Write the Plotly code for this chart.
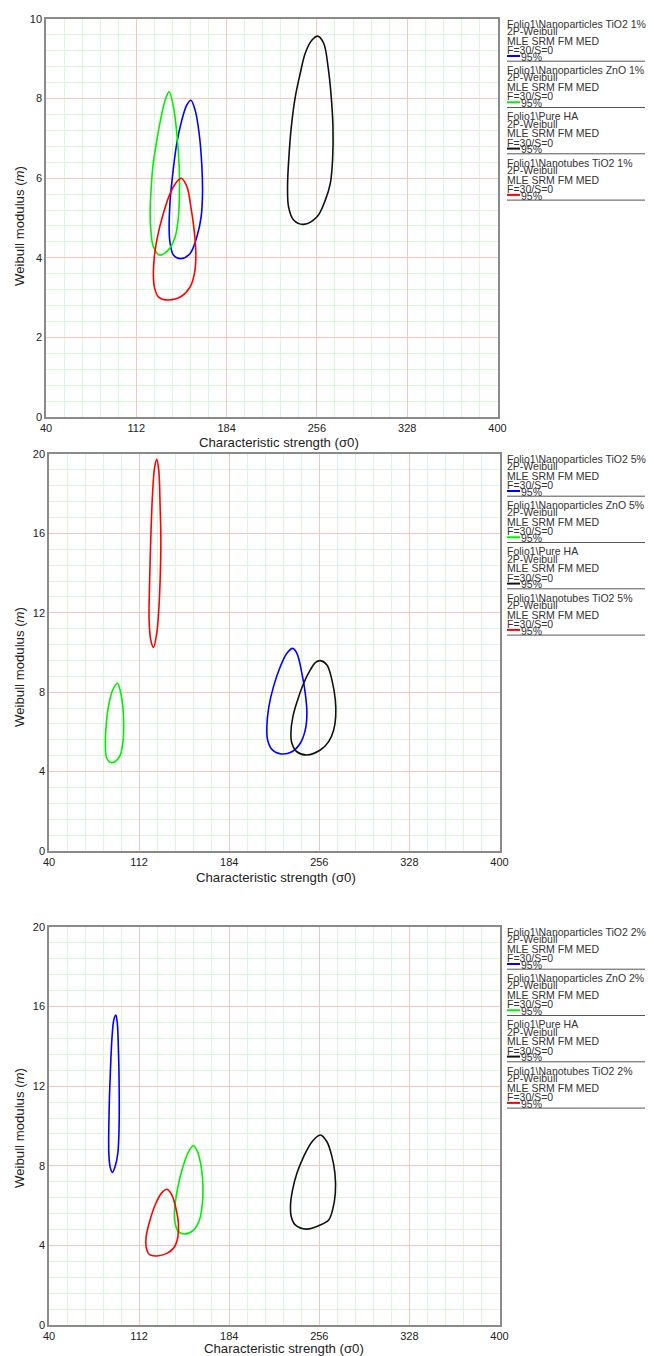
import plotly.graph_objects as go

W, H = 654, 1356
OFF = 8  # the page body margin shifts the figure by 8 px; positions below are page pixels

# ---------------- DATA ----------------
# Panel 1 (1%)
p1_tio2_x = [155.5, 158.9, 162.1, 164.3, 164.8, 163.7, 160.3, 154.9, 147.8, 141.6, 139.0, 138.2, 139.0, 141.1, 144.3, 148.3, 152.3]
p1_tio2_y = [7.96, 7.71, 7.13, 6.29, 5.62, 5.03, 4.53, 4.11, 3.98, 4.07, 4.36, 4.70, 5.45, 6.12, 6.88, 7.46, 7.84]
p1_zno_x = [138.2, 141.6, 144.3, 146.2, 146.4, 145.6, 143.0, 137.6, 130.4, 125.6, 123.6, 123.0, 123.6, 125.2, 128.4, 132.4, 135.5]
p1_zno_y = [8.17, 7.80, 7.13, 6.29, 5.62, 5.03, 4.53, 4.20, 4.07, 4.28, 4.70, 5.12, 5.62, 6.29, 6.96, 7.63, 8.01]
p1_ha_x = [256.6, 261.4, 264.9, 267.2, 268.8, 268.5, 266.7, 262.7, 256.1, 245.4, 237.4, 233.4, 232.6, 233.7, 235.6, 238.8, 242.7, 246.7, 252.1]
p1_ha_y = [9.57, 9.39, 8.80, 8.13, 7.29, 6.46, 5.87, 5.45, 5.03, 4.84, 4.95, 5.28, 5.79, 6.54, 7.29, 8.05, 8.63, 9.14, 9.47]
p1_nt_x = [147.8, 152.3, 155.5, 158.1, 159.5, 158.4, 154.9, 148.3, 137.6, 129.6, 126.4, 125.6, 126.4, 128.4, 132.8, 139.0, 144.3]
p1_nt_y = [6.00, 5.79, 5.28, 4.70, 4.11, 3.61, 3.27, 3.04, 2.94, 3.02, 3.27, 3.61, 4.03, 4.45, 5.03, 5.62, 5.91]

# Panel 2 (5%)
p2_tio2_x = [234.7, 238.1, 242.1, 244.8, 246.1, 244.8, 240.8, 234.1, 225.6, 218.1, 214.7, 214.1, 215.7, 219.4, 224.8, 230.1]
p2_tio2_y = [10.21, 9.96, 8.95, 7.94, 6.94, 6.10, 5.43, 5.00, 4.89, 5.12, 5.59, 6.26, 7.27, 8.28, 9.28, 9.96]
p2_zno_x = [94.7, 96.8, 99.0, 99.7, 99.0, 96.3, 90.2, 86.2, 85.1, 85.6, 87.5, 90.9]
p2_zno_y = [8.45, 8.11, 7.27, 6.26, 5.43, 4.75, 4.45, 4.67, 5.25, 6.26, 7.27, 8.11]
p2_ha_x = [256.8, 262.1, 266.1, 268.8, 269.1, 267.5, 263.5, 256.8, 246.1, 238.1, 234.1, 233.3, 234.9, 238.7, 243.5, 248.8, 252.8]
p2_ha_y = [9.59, 9.37, 8.61, 7.61, 6.77, 6.10, 5.51, 5.09, 4.84, 5.00, 5.43, 5.93, 6.77, 7.61, 8.45, 9.12, 9.49]
p2_nt_x = [126.1, 127.7, 128.8, 129.4, 128.8, 127.7, 126.1, 123.5, 121.3, 120.0, 120.3, 121.3, 122.9, 124.5]
p2_nt_y = [19.73, 19.19, 17.35, 15.67, 13.65, 12.14, 10.97, 10.26, 10.63, 11.64, 13.32, 15.67, 18.19, 19.36]

# Panel 3 (2%)
p3_tio2_x = [93.4, 94.6, 95.4, 96.0, 96.0, 95.0, 92.8, 90.6, 88.8, 87.8, 88.0, 89.0, 90.4, 91.8]
p3_tio2_y = [15.58, 15.16, 13.99, 12.31, 9.97, 8.63, 7.96, 7.67, 7.96, 8.63, 10.64, 12.65, 14.49, 15.33]
p3_zno_x = [155.5, 158.6, 161.6, 163.0, 162.6, 160.2, 155.5, 148.3, 143.4, 140.8, 140.2, 141.6, 144.8, 148.8, 152.2]
p3_zno_y = [9.01, 8.71, 7.96, 6.95, 6.12, 5.28, 4.77, 4.57, 4.69, 5.11, 5.61, 6.45, 7.45, 8.29, 8.79]
p3_ha_x = [256.8, 262.1, 266.1, 268.5, 268.8, 266.6, 263.5, 256.8, 245.6, 236.8, 233.6, 233.0, 234.6, 238.1, 243.5, 250.2]
p3_ha_y = [9.55, 9.21, 8.46, 7.62, 6.62, 5.78, 5.28, 5.03, 4.82, 5.03, 5.44, 6.03, 6.78, 7.62, 8.46, 9.21]
p3_nt_x = [134.2, 138.2, 141.4, 143.4, 143.0, 141.6, 139.4, 134.2, 126.2, 121.0, 119.4, 117.6, 117.6, 120.0, 124.8, 130.2]
p3_nt_y = [6.82, 6.53, 5.86, 5.11, 4.44, 4.10, 3.85, 3.60, 3.47, 3.52, 3.60, 3.93, 4.44, 5.11, 6.03, 6.65]

series_names = ["Nanoparticles TiO2", "Nanoparticles ZnO", "Pure HA", "Nanotubes TiO2"]
series_colors = ["#0000ff", "#00ee00", "#111111", "#ff0000"]
panel_pcts = ["1%", "5%", "2%"]
legend_lines = ["2P-Weibull", "MLE SRM FM MED", "F=30/S=0", "95%"]

x_ticks = [40, 112, 184, 256, 328, 400]
y_ranges = [[0, 10], [0, 20], [0, 20]]
y_dticks = [2, 4, 4]

panels = [
    [(p1_tio2_x, p1_tio2_y), (p1_zno_x, p1_zno_y), (p1_ha_x, p1_ha_y), (p1_nt_x, p1_nt_y)],
    [(p2_tio2_x, p2_tio2_y), (p2_zno_x, p2_zno_y), (p2_ha_x, p2_ha_y), (p2_nt_x, p2_nt_y)],
    [(p3_tio2_x, p3_tio2_y), (p3_zno_x, p3_zno_y), (p3_ha_x, p3_ha_y), (p3_nt_x, p3_nt_y)],
]

# ---------------- LAYOUT (page pixel geometry) ----------------
plot_px = [  # left, right, top, bottom
    (46, 497.5, 19, 417),
    (49, 499.5, 454, 851),
    (49, 499.5, 927, 1325),
]
ytitle_cy = [226, 667, 1128]
xtitle_pos = [(279, 442), (276, 877), (284, 1348)]


def px_x(p):
    return (p - OFF) / W


def px_y(p):
    return 1 - (p - OFF) / H


fig = go.Figure()
shapes = []
annotations = []
FONT = "Liberation Sans, Arial, sans-serif"
TXT = "#222222"

for i, series in enumerate(panels):
    ax = "" if i == 0 else str(i + 1)
    for j, (xs, ys) in enumerate(series):
        fig.add_trace(go.Scatter(
            x=list(xs) + [xs[0]], y=list(ys) + [ys[0]],
            mode="lines", line=dict(color=series_colors[j], width=1.6, shape="spline", smoothing=1.0),
            xaxis="x" + ax, yaxis="y" + ax, showlegend=False, hoverinfo="skip",
        ))
    l, r, t, b = plot_px[i]
    common = dict(
        showline=True, linecolor="#8a8a8a", linewidth=1.5, mirror=True,
        zeroline=False, ticks="", showgrid=True, gridcolor="#f7c4c4", gridwidth=1,
        tickfont=dict(family=FONT, size=11, color=TXT), automargin=False,
    )
    fig.update_layout(**{
        "xaxis" + ax: dict(
            domain=[px_x(l), px_x(r)], range=[40, 400], tickmode="array", tickvals=x_ticks,
            ticktext=[str(v) for v in x_ticks], anchor="y" + ax,
            minor=dict(tick0=40, dtick=14.4, showgrid=True, gridcolor="#dcf5dc", gridwidth=1),
            **common),
        "yaxis" + ax: dict(
            domain=[px_y(b), px_y(t)], range=y_ranges[i], tick0=0, dtick=y_dticks[i], anchor="x" + ax,
            minor=dict(tick0=0, dtick=y_dticks[i] / 5, showgrid=True, gridcolor="#dcf5dc", gridwidth=1),
            **common),
    })
    # axis titles
    annotations.append(dict(
        text="Weibull modulus (<i>m</i>)", textangle=-90, showarrow=False,
        xref="paper", yref="paper", x=px_x(19), y=px_y(ytitle_cy[i]),
        xanchor="center", yanchor="middle", font=dict(family=FONT, size=13.2, color=TXT)))
    annotations.append(dict(
        text="Characteristic strength (σ0)", showarrow=False,
        xref="paper", yref="paper", x=px_x(xtitle_pos[i][0]), y=px_y(xtitle_pos[i][1]),
        xanchor="center", yanchor="middle", font=dict(family=FONT, size=13.2, color=TXT)))
    # legend block
    for j, name in enumerate(series_names):
        y0 = t + 4.7 + j * 46.3
        lines = ["Folio1\\" + name + (" " + panel_pcts[i] if name != "Pure HA" else "")] + legend_lines
        offs = [0, 7.3, 17, 26.3, 33]
        for k, (txt, off) in enumerate(zip(lines, offs)):
            annotations.append(dict(
                text=txt, showarrow=False, xref="paper", yref="paper",
                x=px_x(507 if k < 4 else 521), y=px_y(y0 + off), xshift=-1,
                xanchor="left", yanchor="middle", borderpad=0,
                font=dict(family=FONT, size=10.5, color="#333333")))
        shapes.append(dict(type="line", xref="paper", yref="paper",
                           x0=px_x(507), x1=px_x(520), y0=px_y(y0 + 32.3), y1=px_y(y0 + 32.3),
                           line=dict(color=series_colors[j], width=2)))
        shapes.append(dict(type="line", xref="paper", yref="paper",
                           x0=px_x(507), x1=px_x(645), y0=px_y(y0 + 37.5), y1=px_y(y0 + 37.5),
                           line=dict(color="#555555", width=1)))

fig.update_layout(
    width=W, height=H, margin=dict(l=0, r=0, t=0, b=0),
    paper_bgcolor="white", plot_bgcolor="white", showlegend=False,
    shapes=shapes, annotations=annotations,
)

fig.write_html("out.html")
